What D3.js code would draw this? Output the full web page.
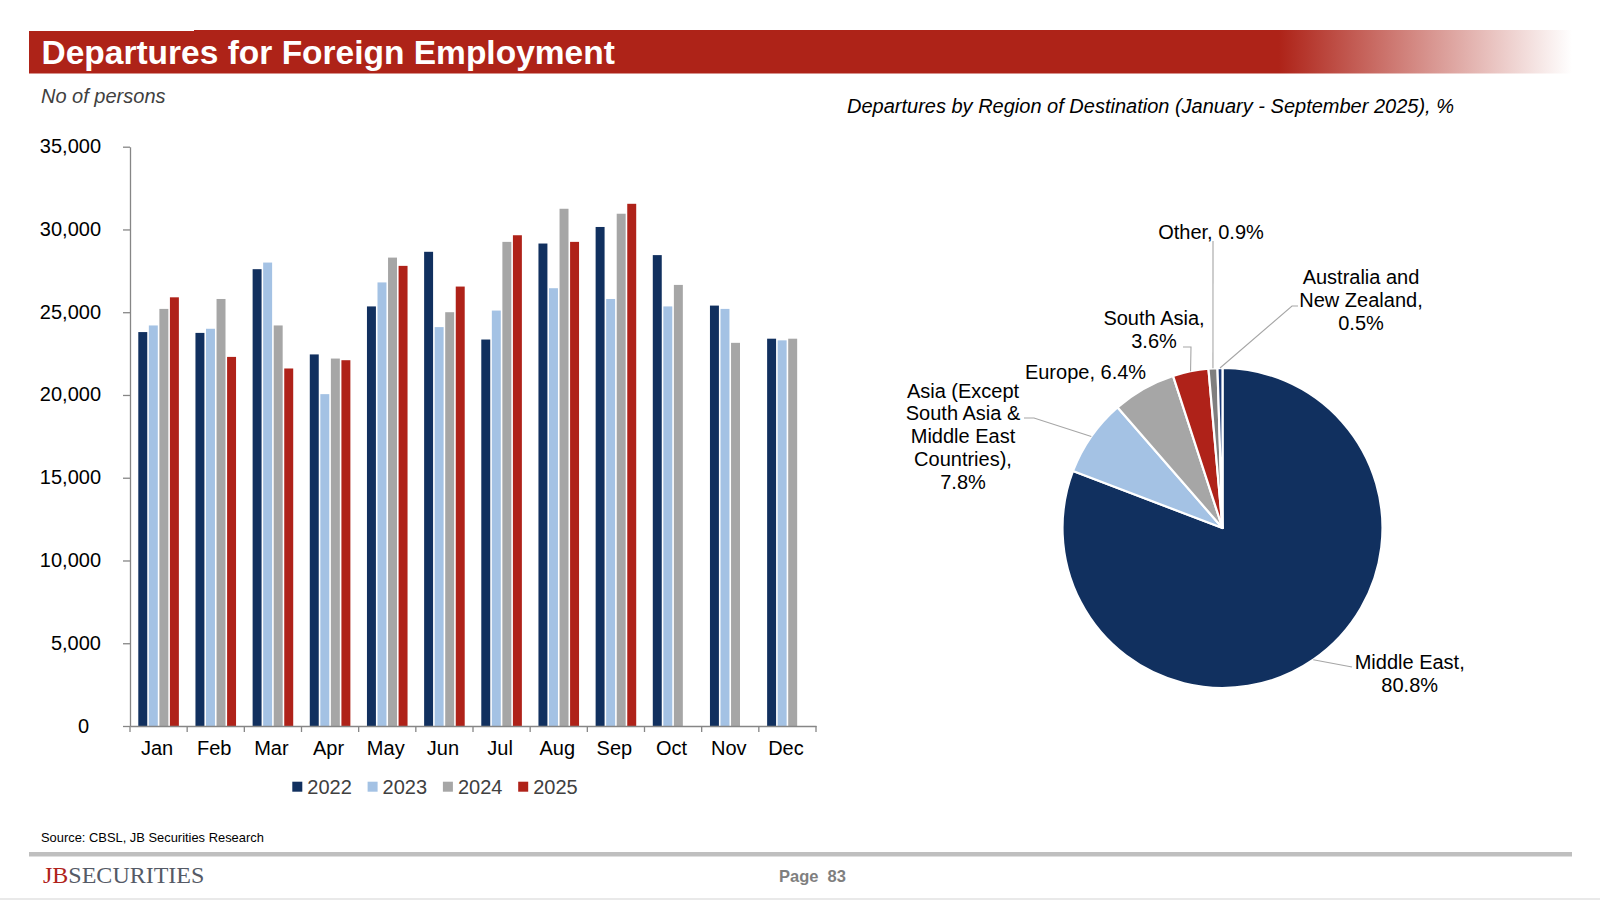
<!DOCTYPE html>
<html>
<head>
<meta charset="utf-8">
<script src="https://cdn.jsdelivr.net/npm/d3@7"></script>
<style>
  html, body { margin: 0; padding: 0; background: #fff; }
  svg { display: block; font-family: "Liberation Sans", Arial, sans-serif; }
</style>
</head>
<body>
<svg id="chart" width="1600" height="901"></svg>
<script>
// ---------- DATA ----------
const months = ["Jan","Feb","Mar","Apr","May","Jun","Jul","Aug","Sep","Oct","Nov","Dec"];
const years = ["2022","2023","2024","2025"];
const v2022 = [23800,23750,27600,22450,25350,28650,23350,29150,30150,28450,25400,23400];
const v2023 = [24200,24000,28000,20050,26800,24100,25100,26450,25800,25350,25200,23300];
const v2024 = [25200,25800,24200,22200,28300,25000,29250,31250,30950,26650,23150,23400];
const v2025 = [25900,22300,21600,22100,27800,26550,29650,29250,31550,null,null,null];
const yTicks = [0,5000,10000,15000,20000,25000,30000,35000];

const regions = ["Middle East","Asia (Except South Asia & Middle East Countries)","Europe","South Asia","Other","Australia and New Zealand"];
const shares = [80.8,7.8,6.4,3.6,0.9,0.5];
const regionLabelLines = [
  ["Middle East,","80.8%"],
  ["Asia (Except","South Asia &","Middle East","Countries),","7.8%"],
  ["Europe, 6.4%"],
  ["South Asia,","3.6%"],
  ["Other, 0.9%"],
  ["Australia and","New Zealand,","0.5%"]
];

// ---------- STYLE ----------
const yearColors = ["#11305F","#A4C2E4","#A6A6A6","#AF2219"];
const sliceColors = ["#11305F","#A4C2E4","#A6A6A6","#AF2219","#7F7F7F","#1B3A78"];
const red = "#AE2318";
const sans = "'Liberation Sans', Arial, sans-serif";

const svg = d3.select("#chart");

// ---------- HEADER ----------
const defs = svg.append("defs");
const grad = defs.append("linearGradient").attr("id","bandGrad")
  .attr("gradientUnits","userSpaceOnUse").attr("x1",29).attr("x2",1572).attr("y1",0).attr("y2",0);
grad.append("stop").attr("offset","0").attr("stop-color",red);
grad.append("stop").attr("offset","0.81").attr("stop-color",red);
grad.append("stop").attr("offset","1").attr("stop-color","#ffffff");
svg.append("rect").attr("x",29).attr("y",31).attr("width",1543).attr("height",42.5).attr("fill","url(#bandGrad)");
svg.append("rect").attr("x",194).attr("y",30).attr("width",1378).attr("height",1.2).attr("fill","url(#bandGrad)");
svg.append("text").attr("x",41.5).attr("y",63.5).attr("fill","#fff")
  .attr("font-size",33.5).attr("font-weight","bold").text("Departures for Foreign Employment");

svg.append("text").attr("x",41).attr("y",102.5).attr("fill","#404040")
  .attr("font-size",20).attr("font-style","italic").text("No of persons");
svg.append("text").attr("x",847).attr("y",112.5).attr("fill","#000")
  .attr("font-size",20).attr("font-style","italic")
  .text("Departures by Region of Destination (January - September 2025), %");

// ---------- BAR CHART ----------
const plotL = 130, plotR = 816, plotT = 146.7, plotB = 726;
const series = [v2022, v2023, v2024, v2025];

const y = d3.scaleLinear().domain([0,35000]).range([plotB, plotT]);
const x = d3.scaleBand().domain(months).range([plotL, plotR]).paddingInner(0.29).paddingOuter(0.145);
const x1 = d3.scaleBand().domain(years).range([0, x.bandwidth()]).paddingInner(0.15).paddingOuter(0);
const xEdge = d3.scaleLinear().domain([0,12]).range([plotL, plotR]);

const axisColor = "#868686";

// Y axis
const yAxis = svg.append("g").attr("transform",`translate(${plotL},0)`)
  .call(d3.axisLeft(y).tickValues(yTicks).tickFormat(d3.format(",")).tickSize(7).tickPadding(22).tickSizeOuter(0));
yAxis.select(".domain").attr("stroke",axisColor).attr("stroke-width",1.3);
yAxis.selectAll(".tick line").attr("stroke",axisColor).attr("stroke-width",1.3);
yAxis.selectAll(".tick text").attr("font-size",20).attr("fill","#000")
  .attr("font-family",sans)
  .attr("dy","0.3em")
  .attr("dx", d => d === 0 ? -12 : 0);

// bars
const gBars = svg.append("g");
months.forEach((m, i) => {
  series.forEach((s, k) => {
    const v = s[i];
    if (v == null) return;
    gBars.append("rect")
      .attr("x", x(m) + x1(years[k]))
      .attr("y", y(v))
      .attr("width", x1.bandwidth())
      .attr("height", y(0) - y(v))
      .attr("fill", yearColors[k]);
  });
});

// X axis
const xAxis = svg.append("g").attr("transform",`translate(0,${plotB})`)
  .call(d3.axisBottom(x).tickSize(0).tickPadding(15).tickSizeOuter(0));
xAxis.select(".domain").attr("stroke",axisColor).attr("stroke-width",1.3);
xAxis.selectAll(".tick text").attr("font-size",20).attr("fill","#000")
  .attr("font-family",sans).attr("dx",-1.5);
xAxis.selectAll(".edge").data(d3.range(13)).enter().append("line")
  .attr("x1", d => xEdge(d)).attr("x2", d => xEdge(d))
  .attr("y1", 0).attr("y2", 6).attr("stroke", axisColor).attr("stroke-width",1.3);

// legend
const legend = svg.append("g").attr("transform","translate(292.3,781.7)");
years.forEach((yr, k) => {
  const g = legend.append("g").attr("transform",`translate(${k*75.3},0)`);
  g.append("rect").attr("width",10).attr("height",10).attr("fill",yearColors[k]);
  g.append("text").attr("x",15).attr("y",12).attr("font-size",20).attr("fill","#404040").text(yr);
});

// ---------- PIE ----------
const cx = 1222.5, cy = 528, R = 160;
const pie = d3.pie().sort(null).value(d => d).startAngle(0).endAngle(2*Math.PI);
const arcs = pie(shares);
const arc = d3.arc().innerRadius(0).outerRadius(R);
const gPie = svg.append("g").attr("transform",`translate(${cx},${cy})`);
gPie.selectAll("path").data(arcs).enter().append("path")
  .attr("d", arc).attr("fill", (d,i) => sliceColors[i])
  .attr("stroke","#fff").attr("stroke-width",2.2).attr("stroke-linejoin","round");

// leader lines: extra points relative to the pie centre
const leaderPts = [
  [[129.5,139]],
  [[-188.5,-110],[-198.5,-110]],
  [],
  [[-31.5,-181],[-39.5,-181]],
  [[-9.5,-287]],
  [[69.5,-222],[75.5,-222]]
];
const labelPos = [
  [187.2,140.7],
  [-259.5,-130.5],
  [-137,-149.3],
  [-68.5,-202.7],
  [-11.5,-289],
  [138.5,-243.7]
];
const lineH = 22.8;
arcs.forEach((a, i) => {
  const mid = (a.startAngle + a.endAngle) / 2;
  const start = [R*Math.sin(mid), -R*Math.cos(mid)];
  if (leaderPts[i].length) {
    const pts = [start].concat(leaderPts[i]);
    gPie.append("path").attr("d", d3.line()(pts))
      .attr("fill","none").attr("stroke","#A6A6A6").attr("stroke-width",1.1);
  }
  const t = gPie.append("text").attr("text-anchor","middle").attr("font-size",20).attr("fill","#000");
  regionLabelLines[i].forEach((ln, j) => {
    t.append("tspan").attr("x", labelPos[i][0]).attr("y", labelPos[i][1] + j*lineH).text(ln);
  });
});

// ---------- FOOTER ----------
svg.append("text").attr("x",41).attr("y",842).attr("font-size",12.9).attr("fill","#000")
  .text("Source: CBSL, JB Securities Research");
svg.append("rect").attr("x",29).attr("y",852).attr("width",1543).attr("height",4.5).attr("fill","#BFBFBF");
const logo = svg.append("text").attr("x",43).attr("y",883).attr("font-size",24)
  .style("font-family","'Liberation Serif','Times New Roman',serif");
logo.append("tspan").attr("fill","#B0221A").text("JB");
logo.append("tspan").attr("fill","#555a66").text("SECURITIES");
svg.append("text").attr("x",779).attr("y",881.5).attr("font-size",16.5).attr("font-weight","bold").attr("fill","#7F7F7F").text("Page");
svg.append("text").attr("x",827.6).attr("y",881.5).attr("font-size",16.5).attr("font-weight","bold").attr("fill","#7F7F7F").text("83");
svg.append("rect").attr("x",0).attr("y",898.5).attr("width",1600).attr("height",1).attr("fill","#D4D4D4");
</script>
</body>
</html>
